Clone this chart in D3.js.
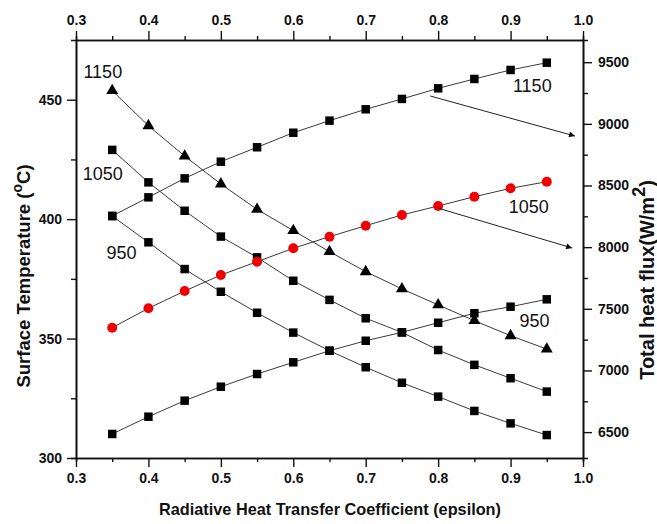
<!DOCTYPE html>
<html>
<head>
<meta charset="utf-8">
<script src="https://cdn.jsdelivr.net/npm/d3@7"></script>
<style>
  body { margin: 0; background: #fff; }
  svg { display: block; font-family: "Liberation Sans", Arial, sans-serif; }
  .tick text { font-weight: bold; font-size: 14px; fill: #111; }
</style>
</head>
<body>
<svg width="657" height="524"></svg>
<script>
// ~~~~~~ DATA ~~~~~~
var epsilon = [0.35, 0.40, 0.45, 0.50, 0.55, 0.60, 0.65, 0.70, 0.75, 0.80, 0.85, 0.90, 0.95];

// surface temperature (left axis)
var temp_1150 = [453.8, 439.1, 426.4, 414.7, 404.1, 395.2, 386.4, 378.0, 370.8, 364.1, 357.5, 351.2, 345.6];
var temp_1050 = [429.0, 415.4, 403.5, 392.7, 384.0, 374.2, 366.2, 358.5, 352.6, 345.2, 339.0, 333.4, 327.8];
var temp_950  = [401.3, 390.3, 379.1, 369.6, 360.8, 352.5, 344.9, 338.0, 331.5, 325.7, 319.7, 314.5, 309.6];

// total heat flux (right axis)
var flux_1150 = [8253, 8404, 8558, 8693, 8810, 8928, 9026, 9118, 9202, 9288, 9364, 9437, 9496];
var flux_1050 = [7347, 7504, 7644, 7774, 7882, 7991, 8085, 8174, 8261, 8334, 8409, 8477, 8531];
var flux_950  = [6485, 6625, 6755, 6868, 6971, 7066, 7160, 7241, 7309, 7387, 7464, 7517, 7577];

var x_ticks = [0.3, 0.4, 0.5, 0.6, 0.7, 0.8, 0.9, 1.0];
var x_minor = [0.35, 0.45, 0.55, 0.65, 0.75, 0.85, 0.95];
var left_ticks = [300, 350, 400, 450];
var left_minor = [325, 375, 425];
var right_ticks = [6500, 7000, 7500, 8000, 8500, 9000, 9500];
var right_minor = [6750, 7250, 7750, 8250, 8750, 9250];

// labels: [text, epsilon, value, axis]
var labels = [
  ["1150", 0.337, 459.1, "left"],
  ["1050", 0.337, 416.4, "left"],
  ["950", 0.363, 383.3, "left"],
  ["1150", 0.930, 9258, "right"],
  ["1050", 0.925, 8277, "right"],
  ["950", 0.933, 7352, "right"]
];

// arrows: [eps start, flux start, eps end, flux end]
var arrows = [
  [0.789, 9226, 0.989, 8901],
  [0.799, 8318, 0.985, 7993]
];

// ~~~~~~ SVG ~~~~~~
var svg = d3.select("svg"),
    margin = {top: 40, right: 74, bottom: 66, left: 76},
    width = 657 - margin.left - margin.right,
    height = 524 - margin.top - margin.bottom;

var g = svg.append("g")
    .attr("transform", "translate(" + margin.left + "," + margin.top + ")");

// ~~~~~~ SCALES ~~~~~~
var x = d3.scaleLinear().domain([0.3, 1.0]).range([0, width]);
var y_left = d3.scaleLinear().domain([300, 475]).range([height, 0]);
var y_right = d3.scaleLinear().domain([6290, 9680]).range([height, 0]);

// ~~~~~~ AXES ~~~~~~
function styleAxis(sel) {
  sel.select(".domain").attr("stroke", "#111").attr("stroke-width", 1.6);
  sel.selectAll(".tick line").attr("stroke", "#111").attr("stroke-width", 1.4);
}

// bottom
g.append("g").attr("transform", "translate(0," + height + ")")
  .call(d3.axisBottom(x).tickValues(x_minor).tickSize(4).tickFormat(""))
  .call(styleAxis);
g.append("g").attr("transform", "translate(0," + height + ")")
  .call(d3.axisBottom(x).tickValues(x_ticks).tickSize(9).tickSizeOuter(0).tickPadding(6).tickFormat(d3.format(".1f")))
  .call(styleAxis);

// top
g.append("g")
  .call(d3.axisTop(x).tickValues(x_minor).tickSize(4).tickFormat(""))
  .call(styleAxis);
g.append("g")
  .call(d3.axisTop(x).tickValues(x_ticks).tickSize(9).tickSizeOuter(0).tickPadding(6).tickFormat(d3.format(".1f")))
  .call(styleAxis);

// left
g.append("g")
  .call(d3.axisLeft(y_left).tickValues(left_minor).tickSize(5).tickFormat(""))
  .call(styleAxis);
g.append("g")
  .call(d3.axisLeft(y_left).tickValues(left_ticks).tickSize(9).tickSizeOuter(0).tickPadding(5))
  .call(styleAxis);

// right
g.append("g").attr("transform", "translate(" + width + ",0)")
  .call(d3.axisRight(y_right).tickValues(right_minor).tickSize(5).tickFormat(""))
  .call(styleAxis);
g.append("g").attr("transform", "translate(" + width + ",0)")
  .call(d3.axisRight(y_right).tickValues(right_ticks).tickSize(9).tickSizeOuter(0).tickPadding(6).tickFormat(d3.format("d")))
  .call(styleAxis);

// ~~~~~~ SERIES ~~~~~~
var series = [
  {vals: temp_1150, scale: y_left, marker: "triangle", color: "#000"},
  {vals: temp_1050, scale: y_left, marker: "square", color: "#000"},
  {vals: temp_950, scale: y_left, marker: "square", color: "#000"},
  {vals: flux_1150, scale: y_right, marker: "square", color: "#000"},
  {vals: flux_1050, scale: y_right, marker: "circle", color: "#f00000"},
  {vals: flux_950, scale: y_right, marker: "square", color: "#000"}
];

var symbols = {
  triangle: d3.symbol().type(d3.symbolTriangle).size(62),
  square: d3.symbol().type(d3.symbolSquare).size(72),
  circle: d3.symbol().type(d3.symbolCircle).size(78)
};

series.forEach(function(s) {
  var pts = epsilon.map(function(e, i) { return [e, s.vals[i]]; });

  var line = d3.line()
      .x(function(d) { return x(d[0]); })
      .y(function(d) { return s.scale(d[1]); });

  g.append("path")
    .datum(pts)
    .attr("fill", "none")
    .attr("stroke", "#3a3a3a")
    .attr("stroke-width", 1)
    .attr("d", line);

  g.selectAll(null)
    .data(pts)
    .enter()
    .append("path")
    .attr("transform", function(d) {
      return "translate(" + x(d[0]) + "," + s.scale(d[1]) + ")";
    })
    .attr("d", symbols[s.marker])
    .attr("fill", s.color);
});

// ~~~~~~ ARROWS ~~~~~~
svg.append("defs").append("marker")
  .attr("id", "arrowhead")
  .attr("viewBox", "0 0 10 10")
  .attr("refX", 10).attr("refY", 5)
  .attr("markerWidth", 10).attr("markerHeight", 6)
  .attr("markerUnits", "userSpaceOnUse")
  .attr("orient", "auto")
  .append("path")
  .attr("d", "M0,0 L10,5 L0,10 Z")
  .attr("fill", "#111");

g.selectAll(".arrow")
  .data(arrows)
  .enter()
  .append("line")
  .attr("class", "arrow")
  .attr("x1", function(d) { return x(d[0]); })
  .attr("y1", function(d) { return y_right(d[1]); })
  .attr("x2", function(d) { return x(d[2]); })
  .attr("y2", function(d) { return y_right(d[3]); })
  .attr("stroke", "#222")
  .attr("stroke-width", 1)
  .attr("marker-end", "url(#arrowhead)");

// ~~~~~~ SERIES LABELS ~~~~~~
g.selectAll(".lbl")
  .data(labels)
  .enter()
  .append("text")
  .attr("class", "lbl")
  .attr("x", function(d) { return x(d[1]); })
  .attr("y", function(d) { return d[3] === "left" ? y_left(d[2]) : y_right(d[2]); })
  .attr("text-anchor", "middle")
  .style("font-size", "18px")
  .attr("fill", "#111")
  .text(function(d) { return d[0]; });

// ~~~~~~ AXIS TITLES ~~~~~~
svg.append("text")
  .attr("x", 330)
  .attr("y", 515)
  .attr("text-anchor", "middle")
  .style("font", "bold 16.3px 'Liberation Sans', Arial, sans-serif")
  .attr("fill", "#111")
  .text("Radiative Heat Transfer Coefficient (epsilon)");

var lt = svg.append("text")
  .attr("transform", "translate(30,276) rotate(-90)")
  .attr("text-anchor", "middle")
  .style("font", "bold 18.5px 'Liberation Sans', Arial, sans-serif")
  .attr("fill", "#111");
lt.append("tspan").text("Surface Temperature (");
lt.append("tspan").attr("dy", -8).style("font-size", "14px").text("o");
lt.append("tspan").attr("dy", 8).text("C)");

var rt = svg.append("text")
  .attr("transform", "translate(654,280) rotate(-90)")
  .attr("text-anchor", "middle")
  .style("font", "bold 20px 'Liberation Sans', Arial, sans-serif")
  .attr("fill", "#111");
rt.append("tspan").text("Total heat flux(W/m");
rt.append("tspan").attr("dy", -9).style("font-size", "18px").text("2");
rt.append("tspan").attr("dy", 9).text(")");
</script>
</body>
</html>
